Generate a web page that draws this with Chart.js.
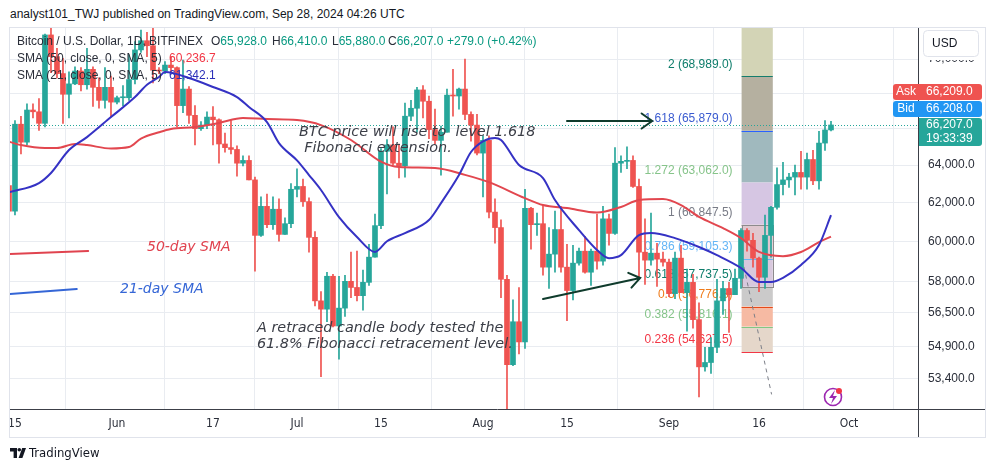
<!DOCTYPE html>
<html>
<head>
<meta charset="utf-8">
<script src="https://cdn.jsdelivr.net/npm/chart.js@4.4.1/dist/chart.umd.min.js"></script>
<style>
  html, body { margin: 0; padding: 0; background: #fff; }
  #wrap { position: relative; width: 991px; height: 472px; overflow: hidden; }
  #title { position: absolute; left: 10px; top: 7px; font: 12px "Liberation Sans", Arial, sans-serif; color: #131722; white-space: nowrap; }
  #brand { position: absolute; left: 10px; top: 445px; font: 13px "Liberation Sans Narrow", "DejaVu Sans Condensed", "Liberation Sans", sans-serif; color: #131722; display: flex; align-items: center; gap: 3px; }
  canvas { position: absolute; left: 0; top: 0; }
</style>
</head>
<body>
<div id="wrap">
  <div id="title">analyst101_TWJ published on TradingView.com, Sep 28, 2024 04:26 UTC</div>
  <canvas id="c" width="991" height="472"></canvas>
  <div id="brand">
    <svg width="16" height="10" viewBox="0 0 16 10"><path d="M0 0h7v10H3.6V3.4H0z" fill="#131722"/><circle cx="9.3" cy="1.8" r="1.8" fill="#131722"/><path d="M12.2 0H16l-3.6 10H8.6z" fill="#131722"/></svg>
    <span>TradingView</span>
  </div>
</div>
<script>
// daily candles, first one is May 14 2024 (day -1, day 0 = May 15)
const firstDay = -1;
const opens = [
  62900, 61550, 66250, 65250, 67050, 66950, 66300, 71450, 70150, 69150, 67950, 68550, 69300, 68500, 69400, 68350, 67600, 68350,
  67500, 67750, 67750, 68800, 70550, 71100, 70800, 69350, 69300, 69650, 69500, 67300, 68250, 66750, 66000, 66200, 66650, 66500,
  65150, 64950, 64850, 64100, 64250, 63200, 60300, 61800, 60850, 61650, 60350, 60900,
  62700, 62850, 62050, 60200, 57050, 56650, 58250, 55850, 56700, 58000, 57700, 57300, 57950, 59200, 60800, 64750, 65100, 64100,
  63950, 66700, 67150, 68200, 67550, 65950, 65350, 65800, 67900, 67850, 68250, 66800, 66200,
  64650, 65350, 61500, 60700, 58100, 54050, 56050, 55100, 61700, 60850, 60900, 58700, 59350, 60600, 58700, 57550, 58900, 59500,
  58450, 59500, 59000, 61150, 60400, 64100, 64200, 64250, 62850, 59450, 59050, 59400, 59100,
  58950, 57400, 59150, 57450, 57950, 56150, 53950, 54150, 54850, 57050, 57650, 57350, 58150, 60550, 60050, 59150, 58200, 60300,
  61750, 62950, 63200, 63350, 63600, 63350, 64300, 63150, 65200, 65928
];
const highs = [
  63100, 66450, 66700, 67400, 67400, 67700, 71500, 71950, 70650, 70050, 69250, 69550, 69500, 70650, 69550, 68900, 69500, 69000,
  67850, 68450, 70250, 71050, 71750, 71600, 71950, 69500, 69850, 70150, 69550, 69950, 68400, 67300, 66400, 66950, 67250, 66550,
  65750, 66450, 65050, 64500, 64500, 63350, 62300, 62450, 62300, 62200, 61200, 63000,
  63800, 63250, 62250, 60500, 57500, 58450, 58350, 58250, 58300, 59450, 59500, 58550, 59850, 61400, 64900, 65400, 66100, 65150,
  67450, 67600, 68350, 68450, 67850, 67100, 66150, 68250, 69400, 68300, 70000, 66950, 66800,
  65600, 65600, 62200, 61100, 58300, 57100, 57700, 62700, 61750, 61450, 61850, 60700, 61550, 61800, 59850, 59800, 59650, 60250,
  59600, 61400, 61800, 61400, 64950, 64500, 65000, 64500, 63250, 61150, 61450, 59900, 59450,
  59100, 59450, 59800, 58600, 58350, 56950, 54850, 55300, 58100, 58000, 57950, 58600, 60650, 60650, 60400, 59200, 61350, 61800,
  63850, 64150, 63550, 64000, 64750, 64650, 64800, 65850, 66450, 66410
];
const lows = [
  61150, 61350, 64600, 65100, 66600, 65900, 66100, 69200, 68900, 66300, 66600, 68500, 68150, 68250, 67250, 67150, 67150, 66650,
  67400, 67300, 67600, 68550, 70400, 70150, 68600, 69150, 69150, 69250, 66100, 66900, 66300, 65100, 65900, 66000, 65100, 64100,
  64700, 64600, 63400, 63950, 63200, 58500, 60250, 60700, 60600, 60000, 60350, 60700,
  62300, 61800, 59450, 56800, 53500, 56050, 55800, 54300, 56300, 57200, 57050, 56600, 57800, 59200, 60650, 62450, 64000, 63300,
  63350, 66450, 65800, 66600, 65450, 65150, 63450, 65800, 66700, 67100, 66500, 65300, 64550,
  62300, 61200, 59900, 57200, 49500, 54000, 54550, 54800, 59600, 60300, 58300, 57650, 58450, 58450, 56100, 57100, 58800, 58400,
  57800, 58600, 58800, 59800, 60350, 63600, 63800, 62800, 58100, 57850, 58800, 57750, 58750,
  57250, 57150, 57450, 55600, 55750, 52600, 53750, 53650, 54600, 56400, 55550, 57350, 57650, 59500, 58700, 57500, 57650, 59200,
  61650, 62400, 62800, 62400, 62700, 62700, 62950, 62700, 64800, 65880
];
const closes = [
  61550, 66250, 65250, 67050, 66950, 66300, 71450, 70150, 69150, 67950, 68550, 69300, 68500, 69400, 68350, 67600, 68350, 67500,
  67750, 67750, 68800, 70550, 71100, 70800, 69350, 69300, 69650, 69500, 67300, 68250, 66750, 66000, 66200, 66650, 66500, 65150,
  64950, 64850, 64100, 64250, 63200, 60300, 61800, 60850, 61650, 60350, 60900, 62700,
  62850, 62050, 60200, 57050, 56650, 58250, 55850, 56700, 58000, 57700, 57300, 57950, 59200, 60800, 64750, 65100, 64100, 63950,
  66700, 67150, 68200, 67550, 65950, 65350, 65800, 67900, 67850, 68250, 66800, 66200, 64650,
  65350, 61500, 60700, 58100, 54050, 56050, 55100, 61700, 60850, 60900, 58700, 59350, 60600, 58700, 57550, 58900, 59500, 58450,
  59500, 59000, 61150, 60400, 64100, 64200, 64250, 62850, 59450, 59050, 59400, 59100, 58950,
  57400, 59150, 57450, 57950, 56150, 53950, 54150, 54850, 57050, 57650, 57350, 58150, 60550, 60050, 59150, 58200, 60300, 61750,
  62950, 63200, 63350, 63600, 63350, 64300, 63150, 65200, 65928, 66207
];

// moving averages (day, value)
const sma50Days = [-1, 1, 5, 7, 10, 12, 16, 19, 21, 24, 26, 30, 34, 38, 42, 47, 51, 56, 61, 64, 70, 75, 79, 85, 88, 92, 97, 101, 104, 108, 111, 114, 118, 121, 124, 128, 131, 134, 136];
const sma50Values = [65280, 65090, 64930, 64930, 65150, 65090, 64900, 64980, 65450, 65800, 65980, 66090, 66320, 66600, 66540, 66480, 66200, 65370, 64180, 63890, 63840, 63470, 63080, 62230, 61870, 61710, 61480, 61770, 62130, 62180, 61870, 61250, 60670, 60160, 59460, 59250, 59460, 59960, 60237];
const sma21Days = [-1, 4, 6, 9, 12, 16, 20, 22, 24, 25, 29, 33, 37, 39, 42, 44, 47, 49, 51, 54, 57, 60, 62, 65, 69, 71, 74, 76, 78, 80, 81, 84, 88, 90, 94, 97, 99, 101, 104, 106, 110, 114, 117, 121, 124, 126, 128, 131, 134, 136];
const sma21Values = [62540, 63030, 63570, 64820, 65530, 66650, 67790, 68500, 68950, 69240, 68890, 68370, 67790, 67220, 66370, 65200, 64250, 63460, 62660, 61240, 60217, 59460, 60000, 60420, 61090, 61970, 63460, 64710, 65300, 65480, 65370, 64000, 63300, 62130, 60570, 59560, 59150, 59300, 60310, 60420, 60160, 59710, 59300, 58660, 57970, 57970, 58170, 58810, 59810, 61342];

// axes
const xTickDays = [0, 17, 33, 47, 61, 78, 92, 109, 124, 139];
const xTickLabels = ['15', 'Jun', '17', 'Jul', '15', 'Aug', '15', 'Sep', '16', 'Oct'];
const yTicks = [53400, 54900, 56500, 58000, 60000, 62000, 64000, 66000, 68000, 70000];

// fibonacci retracement
const fibRatios = [2, 1.618, 1.272, 1, 0.786, 0.618, 0.5, 0.382, 0.236];
const fibPrices = [68989.0, 65879.0, 63062.0, 60847.5, 59105.3, 57737.5, 56776.8, 55816.1, 54627.5];
const fibTop = 74020;
const fibBottom = 52706;
const fibFromDay = 121.1, fibToDay = 126.3;
const fibBandColors = ['#d3d4b6', '#b5b0a0', '#a0b9be', '#d6c6e3', '#dfc7cf', '#d8c8dd', '#cbcaca', '#f6baa3', '#e5d7ca'];
const fibLineColors = ['#137d6c', '#2962ff', null, '#8a8a8a', '#64b5f6', '#137d6c', '#e64a19', '#81c784', '#f23645'];
const fibTextColors = ['#0d7d6b', '#3a5bd0', '#86c48a', '#787b86', '#64b5f6', '#0d7d6b', '#ef7b1a', '#86c48a', '#f23645'];

const upColor = '#26a69a', downColor = '#ef5350';
const days = opens.map((_, i) => firstDay + i);
const candleColors = opens.map((o, i) => closes[i] >= o ? upColor : downColor);
const lastClose = closes[closes.length - 1];

function fmt(v) {
  return v.toLocaleString('en-US', { minimumFractionDigits: 1, maximumFractionDigits: 1 });
}

function arrow(ctx, x0, y0, x1, y1) {
  const ang = Math.atan2(y1 - y0, x1 - x0), len = 13, spread = 0.62;
  ctx.beginPath();
  ctx.moveTo(x0, y0); ctx.lineTo(x1, y1);
  ctx.moveTo(x1 - len * Math.cos(ang - spread), y1 - len * Math.sin(ang - spread));
  ctx.lineTo(x1, y1);
  ctx.lineTo(x1 - len * Math.cos(ang + spread), y1 - len * Math.sin(ang + spread));
  ctx.stroke();
}

function roundBox(ctx, x, y, w, h, r, fill, stroke) {
  ctx.beginPath();
  ctx.roundRect(x, y, w, h, r);
  if (fill) { ctx.fillStyle = fill; ctx.fill(); }
  if (stroke) { ctx.strokeStyle = stroke; ctx.lineWidth = 1; ctx.stroke(); }
}

const drawings = {
  id: 'drawings',
  beforeDatasetsDraw(chart) {
    const { ctx, chartArea: a, scales: { x, y } } = chart;
    ctx.save();
    ctx.beginPath();
    ctx.rect(a.left, a.top, a.right - a.left, a.bottom - a.top);
    ctx.clip();

    // fib bands and levels
    const x0 = x.getPixelForValue(fibFromDay), x1 = x.getPixelForValue(fibToDay);
    const edges = [fibTop].concat(fibPrices);
    fibBandColors.forEach((c, i) => {
      const ya = y.getPixelForValue(edges[i]), yb = y.getPixelForValue(edges[i + 1]);
      ctx.fillStyle = c;
      ctx.fillRect(x0, ya, x1 - x0, yb - ya);
    });
    fibPrices.forEach((p, i) => {
      if (!fibLineColors[i]) return;
      const yy = Math.round(y.getPixelForValue(p)) + 0.5;
      ctx.strokeStyle = fibLineColors[i];
      ctx.lineWidth = 1;
      ctx.beginPath(); ctx.moveTo(x0, yy); ctx.lineTo(x1, yy); ctx.stroke();
    });
    // rectangle between level 1 and 0.618
    const yr0 = y.getPixelForValue(fibPrices[3]), yr1 = y.getPixelForValue(fibPrices[5]);
    ctx.strokeStyle = '#8d8a8c';
    ctx.strokeRect(Math.round(x0) + 0.5, Math.round(yr0) + 0.5, Math.round(x1 - x0), Math.round(yr1 - yr0));

    ctx.font = '12px "Liberation Sans", Arial, sans-serif';
    ctx.textAlign = 'right';
    ctx.textBaseline = 'middle';
    fibPrices.forEach((p, i) => {
      ctx.fillStyle = fibTextColors[i];
      ctx.fillText(fibRatios[i] + ' (' + fmt(p) + ')', x0 - 9, y.getPixelForValue(p) - 12);
    });

    // dashed trend line of the retracement
    ctx.strokeStyle = '#7c7f88';
    ctx.setLineDash([4, 4]);
    ctx.beginPath();
    ctx.moveTo(x.getPixelForValue(121.2), y.getPixelForValue(fibPrices[4]));
    ctx.lineTo(x.getPixelForValue(126.1), y.getPixelForValue(fibBottom));
    ctx.stroke();

    // last price dotted line
    ctx.setLineDash([1, 2]);
    ctx.strokeStyle = upColor;
    const yl = Math.round(y.getPixelForValue(lastClose)) + 0.5;
    ctx.beginPath(); ctx.moveTo(a.left, yl); ctx.lineTo(a.right, yl); ctx.stroke();
    ctx.restore();
  },

  afterDatasetsDraw(chart) {
    const { ctx, chartArea: a, scales: { x, y } } = chart;
    const P = (d, v) => [x.getPixelForValue(d), y.getPixelForValue(v)];
    ctx.save();
    ctx.beginPath();
    ctx.rect(a.left, a.top, a.right - a.left, a.bottom - a.top);
    ctx.clip();

    // arrows
    ctx.strokeStyle = '#0f3b2c';
    ctx.lineWidth = 2;
    ctx.lineCap = 'round';
    arrow(ctx, ...P(92, 66430), ...P(106.2, 66430));
    arrow(ctx, ...P(88, 57140), ...P(104.2, 58165));

    // legend strokes drawn on the chart
    ctx.lineWidth = 2;
    ctx.strokeStyle = '#e0434f';
    ctx.beginPath(); ctx.moveTo(...P(-0.83, 59354)); ctx.lineTo(...P(12.2, 59507)); ctx.stroke();
    ctx.strokeStyle = '#3566d6';
    ctx.beginPath(); ctx.moveTo(...P(-0.83, 57380)); ctx.lineTo(...P(10.3, 57625)); ctx.stroke();

    // notes
    ctx.textAlign = 'left';
    ctx.textBaseline = 'middle';
    ctx.font = 'italic 14px "DejaVu Sans", sans-serif';
    ctx.fillStyle = '#e0434f';
    ctx.fillText('50-day SMA', ...P(22, 59712));
    ctx.fillStyle = '#3566d6';
    ctx.fillText('21-day SMA', ...P(17.5, 57625));
    ctx.font = 'italic 14.4px "DejaVu Sans", sans-serif';
    ctx.fillStyle = '#3b3e47';
    ctx.fillText('BTC price will rise to  level 1.618', ...P(47.33, 65812));
    ctx.fillText('Fibonacci extension.', ...P(48.2, 64927));
    ctx.fillText('A retraced candle body tested the', ...P(40.33, 55754));
    ctx.fillText('61.8% Fibonacci retracement level.', ...P(40.33, 55004));

    // symbol legend (top-left)
    ctx.font = '12px "Liberation Sans", Arial, sans-serif';
    const dark = '#2a2e39';
    const row = (parts, yy) => {
      parts.forEach(([t, c, xx]) => { ctx.fillStyle = c; ctx.fillText(t, xx, yy); });
    };
    const teal = '#089981';
    const seg = (letter, val, xx) => {
      ctx.fillStyle = dark; ctx.fillText(letter, xx, 42);
      ctx.fillStyle = teal; ctx.fillText(val, xx + ctx.measureText(letter).width, 42);
    };
    row([['Bitcoin / U.S. Dollar, 1D, BITFINEX', dark, 17]], 42);
    seg('O', '65,928.0', 211);
    seg('H', '66,410.0', 272);
    seg('L', '65,880.0', 332);
    seg('C', '66,207.0', 388);
    row([['+279.0 (+0.42%)', teal, 447]], 42);
    row([['SMA (50, close, 0, SMA, 5)', dark, 17], ['60,236.7', '#f23645', 169]], 59);
    row([['SMA (21, close, 0, SMA, 5)', dark, 17], ['61,342.1', '#2b2fb8', 169]], 76);

    // alert icon
    ctx.strokeStyle = '#9c27b0';
    ctx.lineWidth = 1.6;
    ctx.beginPath(); ctx.arc(833, 397, 8.5, 0, Math.PI * 2); ctx.stroke();
    ctx.fillStyle = '#9c27b0';
    ctx.beginPath();
    ctx.moveTo(835, 390); ctx.lineTo(829, 398); ctx.lineTo(833, 398); ctx.lineTo(831, 404); ctx.lineTo(837, 396); ctx.lineTo(833, 396); ctx.closePath();
    ctx.fill();
    ctx.fillStyle = '#f23645';
    ctx.beginPath(); ctx.arc(839, 391, 3, 0, Math.PI * 2); ctx.fill();
    ctx.restore();
  },

  afterDraw(chart) {
    const { ctx, chartArea: a, scales: { y } } = chart;
    ctx.save();
    // panel frame and axis lines
    ctx.strokeStyle = '#e0e3eb';
    ctx.lineWidth = 1;
    ctx.strokeRect(9.5, 27.5, 976, 410);
    ctx.strokeStyle = '#3c3f48';
    ctx.beginPath();
    ctx.moveTo(a.left, a.bottom + 0.5); ctx.lineTo(985, a.bottom + 0.5);
    ctx.moveTo(a.right + 0.5, a.top); ctx.lineTo(a.right + 0.5, 437);
    ctx.stroke();

    // currency box (covers the top price label)
    ctx.fillStyle = '#ffffff';
    ctx.fillRect(a.right + 1, 28, 66, 32);
    roundBox(ctx, 923.5, 30.5, 55, 26, 4, '#ffffff', '#e0e3eb');
    ctx.font = '12px "Liberation Sans", Arial, sans-serif';
    ctx.fillStyle = '#131722';
    ctx.textBaseline = 'middle';
    ctx.textAlign = 'left';
    ctx.fillText('USD', 932, 44);

    // price badges
    const cy = Math.round(y.getPixelForValue(lastClose));
    const bx = a.right + 1;
    roundBox(ctx, bx, cy - 7, 63, 28, [0, 3, 3, 0], upColor);
    roundBox(ctx, bx - 26, cy - 24, 26, 16, [3, 0, 0, 3], '#2196f3');
    roundBox(ctx, bx, cy - 24, 63, 16, [0, 3, 3, 0], '#2196f3');
    roundBox(ctx, bx - 26, cy - 41, 26, 16, [3, 0, 0, 3], '#ef5350');
    roundBox(ctx, bx, cy - 41, 63, 16, [0, 3, 3, 0], '#ef5350');
    ctx.fillStyle = '#ffffff';
    ctx.textAlign = 'center';
    ctx.fillText('Ask', bx - 13, cy - 33);
    ctx.fillText('Bid', bx - 13, cy - 16);
    ctx.textAlign = 'left';
    ctx.fillText('66,209.0', bx + 7, cy - 33);
    ctx.fillText('66,208.0', bx + 7, cy - 16);
    ctx.fillText(fmt(lastClose), bx + 7, cy);
    ctx.fillText('19:33:39', bx + 7, cy + 14);
    ctx.restore();
  }
};

new Chart(document.getElementById('c'), {
  type: 'bar',
  data: {
    datasets: [
      {
        type: 'line', label: 'SMA 21',
        data: sma21Days.map((d, i) => ({ x: d, y: sma21Values[i] })),
        borderColor: '#3532c4', borderWidth: 2, pointRadius: 0,
        cubicInterpolationMode: 'monotone', clip: 0, order: 0
      },
      {
        type: 'line', label: 'SMA 50',
        data: sma50Days.map((d, i) => ({ x: d, y: sma50Values[i] })),
        borderColor: '#e2474f', borderWidth: 2, pointRadius: 0,
        cubicInterpolationMode: 'monotone', clip: 0, order: 0
      },
      {
        label: 'body',
        data: days.map((d, i) => ({ x: d, y: [opens[i], closes[i]] })),
        backgroundColor: candleColors, barThickness: 5, minBarLength: 1,
        grouped: false, order: 1
      },
      {
        label: 'wick',
        data: days.map((d, i) => ({ x: d, y: [lows[i], highs[i]] })),
        backgroundColor: candleColors, barThickness: 1,
        grouped: false, order: 2
      }
    ]
  },
  options: {
    responsive: false,
    animation: false,
    devicePixelRatio: 1,
    layout: { padding: { left: 10, top: 28, right: 0, bottom: 35 } },
    plugins: { legend: { display: false }, tooltip: { enabled: false } },
    scales: {
      x: {
        type: 'linear', min: -0.83, max: 150.5, offset: false,
        afterBuildTicks: s => { s.ticks = xTickDays.map(v => ({ value: v })); },
        afterFit: s => { s.height = 28; },
        grid: { color: '#e9ecf1', drawTicks: false },
        border: { display: false },
        ticks: {
          autoSkip: false, maxRotation: 0, padding: 8, color: '#2a2e39',
          font: { family: '"Liberation Sans Narrow", "DejaVu Sans Condensed", "Liberation Sans", sans-serif', size: 12 },
          callback: v => xTickLabels[xTickDays.indexOf(v)] ?? ''
        }
      },
      y: {
        type: 'logarithmic', position: 'right', min: 52060, max: 71870, bounds: 'data',
        afterBuildTicks: s => { s.ticks = yTicks.map(v => ({ value: v })); },
        afterFit: s => { s.width = 73; },
        grid: { color: '#e9ecf1', drawTicks: false },
        border: { display: false },
        ticks: {
          autoSkip: false, padding: 10, color: '#2a2e39',
          font: { family: '"Liberation Sans", Arial, sans-serif', size: 12 },
          callback: v => fmt(v)
        }
      }
    }
  },
  plugins: [drawings]
});
</script>
</body>
</html>
